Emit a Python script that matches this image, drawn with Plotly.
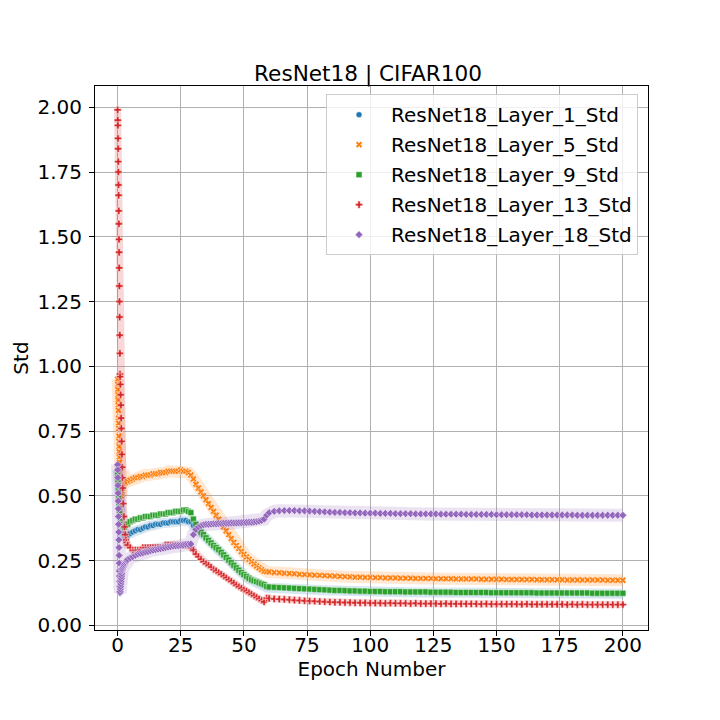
import plotly.graph_objects as go

# epochs: dense sub-epoch samples at the start, then every epoch to 60, then every 2
early_epochs = [0.0, 0.05, 0.1, 0.15, 0.2, 0.25, 0.3, 0.35, 0.4, 0.45,
                0.5, 0.55, 0.6, 0.65, 0.7, 0.75, 0.8, 0.85, 0.9, 0.95,
                1.0, 1.1, 1.2, 1.3, 1.4, 1.5, 1.6, 1.7, 1.8, 1.9, 2.0,
                2.25, 2.5, 2.75, 3.0, 3.25, 3.5, 3.75]
epochs = early_epochs + list(range(4, 61)) + list(range(62, 201, 2))

layer_1_std = [
    0.60, 0.59, 0.58, 0.57, 0.56, 0.55, 0.54, 0.53, 0.52, 0.51, 0.50, 0.50, 0.49, 0.48, 0.47, 0.47, 0.46, 0.45, 0.45, 0.44,
    0.43, 0.42, 0.41, 0.40, 0.40, 0.39, 0.38, 0.38, 0.37, 0.37, 0.36,
    0.35, 0.35, 0.34, 0.34, 0.34, 0.34, 0.35,
    0.35, 0.355, 0.36, 0.365, 0.37, 0.37, 0.375, 0.38, 0.38, 0.385, 0.385, 0.39, 0.39, 0.39, 0.395, 0.395, 0.395,
    0.40, 0.40, 0.40, 0.40, 0.405, 0.405, 0.405, 0.40, 0.40,
    0.385, 0.375, 0.365, 0.355, 0.345, 0.334, 0.324, 0.314, 0.304, 0.296, 0.288, 0.278, 0.268, 0.258, 0.248, 0.238,
    0.228, 0.218, 0.209, 0.200, 0.192, 0.185, 0.178, 0.172, 0.168, 0.165, 0.161, 0.157, 0.153, 0.146, 0.145,
    0.145, 0.144, 0.143, 0.142, 0.141, 0.140, 0.139, 0.138, 0.137, 0.136, 0.135, 0.134, 0.133, 0.133, 0.132, 0.131, 0.131, 0.130, 0.130, 0.129,
    0.129, 0.129, 0.128, 0.128, 0.128, 0.128, 0.127, 0.127, 0.127, 0.127,
    0.127, 0.126, 0.126, 0.126, 0.126, 0.126, 0.125, 0.125, 0.125, 0.125,
    0.125, 0.125, 0.125, 0.124, 0.124, 0.124, 0.124, 0.124, 0.124, 0.124,
    0.124, 0.124, 0.123, 0.123, 0.123, 0.123, 0.123, 0.123, 0.123, 0.123,
    0.123, 0.123, 0.123, 0.122, 0.122, 0.122, 0.122, 0.122, 0.122, 0.122,
]

layer_5_std = [
    0.95, 0.93, 0.91, 0.89, 0.87, 0.85, 0.83, 0.80, 0.78, 0.76, 0.73, 0.71, 0.69, 0.67, 0.65, 0.63, 0.61, 0.59, 0.57, 0.55,
    0.53, 0.52, 0.51, 0.50, 0.50, 0.51, 0.52, 0.53, 0.53, 0.54, 0.54,
    0.54, 0.55, 0.55, 0.55, 0.56, 0.56, 0.56,
    0.555, 0.56, 0.565, 0.57, 0.57, 0.575, 0.575, 0.58, 0.58, 0.58, 0.585, 0.585, 0.585, 0.59, 0.59, 0.59,
    0.595, 0.595, 0.595, 0.595, 0.595, 0.60, 0.595, 0.595, 0.59, 0.58,
    0.565, 0.545, 0.53, 0.515, 0.50, 0.485, 0.47, 0.455, 0.44, 0.425, 0.41, 0.395, 0.38, 0.365, 0.35, 0.335,
    0.32, 0.308, 0.297, 0.285, 0.274, 0.264, 0.255, 0.246, 0.237, 0.229, 0.222, 0.215, 0.209, 0.207, 0.206,
    0.204, 0.203, 0.201, 0.200, 0.199, 0.197, 0.196, 0.195, 0.194, 0.193, 0.192, 0.191, 0.190, 0.189, 0.188, 0.187, 0.186, 0.186, 0.185, 0.185,
    0.184, 0.184, 0.183, 0.183, 0.183, 0.182, 0.182, 0.182, 0.181, 0.181,
    0.181, 0.181, 0.180, 0.180, 0.180, 0.180, 0.179, 0.179, 0.179, 0.179,
    0.179, 0.178, 0.178, 0.178, 0.178, 0.178, 0.177, 0.177, 0.177, 0.177,
    0.177, 0.177, 0.176, 0.176, 0.176, 0.176, 0.176, 0.176, 0.175, 0.175,
    0.175, 0.175, 0.175, 0.175, 0.175, 0.175, 0.174, 0.174, 0.174, 0.174,
]

layer_9_std = [
    0.58, 0.57, 0.56, 0.55, 0.54, 0.53, 0.52, 0.51, 0.50, 0.49, 0.48, 0.47, 0.46, 0.45, 0.45, 0.44, 0.43, 0.43, 0.42, 0.42,
    0.41, 0.41, 0.40, 0.40, 0.39, 0.39, 0.39, 0.38, 0.38, 0.38, 0.38,
    0.38, 0.38, 0.38, 0.39, 0.39, 0.39, 0.39,
    0.39, 0.40, 0.405, 0.41, 0.41, 0.415, 0.415, 0.42, 0.42, 0.42, 0.425, 0.425, 0.425, 0.43, 0.43, 0.43,
    0.435, 0.435, 0.435, 0.44, 0.44, 0.44, 0.445, 0.445, 0.44, 0.435,
    0.41, 0.39, 0.375, 0.36, 0.35, 0.338, 0.328, 0.318, 0.308, 0.30, 0.292, 0.282, 0.272, 0.262, 0.252, 0.242,
    0.232, 0.222, 0.213, 0.204, 0.196, 0.189, 0.182, 0.176, 0.172, 0.169, 0.165, 0.161, 0.157, 0.150, 0.148,
    0.147, 0.146, 0.145, 0.144, 0.143, 0.142, 0.141, 0.140, 0.139, 0.138, 0.137, 0.136, 0.135, 0.135, 0.134, 0.133, 0.133, 0.132, 0.132, 0.131,
    0.131, 0.131, 0.130, 0.130, 0.130, 0.130, 0.129, 0.129, 0.129, 0.129,
    0.129, 0.128, 0.128, 0.128, 0.128, 0.128, 0.127, 0.127, 0.127, 0.127,
    0.127, 0.127, 0.127, 0.126, 0.126, 0.126, 0.126, 0.126, 0.126, 0.126,
    0.126, 0.126, 0.125, 0.125, 0.125, 0.125, 0.125, 0.125, 0.125, 0.125,
    0.125, 0.125, 0.125, 0.124, 0.124, 0.124, 0.124, 0.124, 0.124, 0.124,
]

layer_13_std = [
    1.99, 1.95, 1.93, 1.88, 1.84, 1.79, 1.75, 1.70, 1.66, 1.60, 1.55, 1.49, 1.44, 1.38, 1.31, 1.25, 1.19, 1.12, 1.05, 0.97,
    0.96, 0.93, 0.89, 0.85, 0.80, 0.76, 0.71, 0.66, 0.61, 0.57, 0.53,
    0.47, 0.42, 0.38, 0.35, 0.33, 0.32, 0.31,
    0.31, 0.30, 0.29, 0.29, 0.29, 0.29, 0.30, 0.30, 0.30, 0.30, 0.30, 0.30, 0.30, 0.30,
    0.30, 0.31, 0.31, 0.31, 0.31, 0.31, 0.31, 0.31, 0.31, 0.31, 0.31, 0.30,
    0.29, 0.275, 0.265, 0.255, 0.245, 0.238, 0.232, 0.225, 0.215, 0.21, 0.203, 0.197, 0.19, 0.183, 0.176, 0.17,
    0.163, 0.155, 0.149, 0.143, 0.137, 0.132, 0.126, 0.12, 0.114, 0.108, 0.102, 0.096, 0.091, 0.105, 0.104,
    0.102, 0.101, 0.100, 0.099, 0.097, 0.096, 0.095, 0.094, 0.093, 0.092, 0.091, 0.090, 0.089, 0.089, 0.088, 0.088, 0.087, 0.087, 0.087, 0.086,
    0.086, 0.086, 0.085, 0.086, 0.085, 0.085, 0.085, 0.084, 0.085, 0.084,
    0.084, 0.084, 0.084, 0.083, 0.084, 0.083, 0.083, 0.083, 0.083, 0.083,
    0.083, 0.082, 0.083, 0.082, 0.082, 0.082, 0.082, 0.082, 0.082, 0.081,
    0.082, 0.081, 0.081, 0.081, 0.081, 0.081, 0.081, 0.081, 0.080, 0.081,
    0.080, 0.081, 0.080, 0.080, 0.080, 0.080, 0.080, 0.080, 0.080, 0.080,
]

layer_18_std = [
    0.62, 0.60, 0.57, 0.54, 0.51, 0.48, 0.45, 0.42, 0.39, 0.36, 0.33, 0.30, 0.27, 0.24, 0.21, 0.19, 0.17, 0.15, 0.13, 0.125,
    0.13, 0.14, 0.15, 0.16, 0.17, 0.18, 0.19, 0.20, 0.21, 0.215, 0.22,
    0.225, 0.23, 0.235, 0.24, 0.245, 0.25, 0.25,
    0.255, 0.26, 0.265, 0.27, 0.275, 0.278, 0.28, 0.283, 0.285, 0.288, 0.29, 0.292, 0.294, 0.296,
    0.298, 0.30, 0.302, 0.304, 0.306, 0.307, 0.308, 0.309, 0.31, 0.312, 0.313, 0.314,
    0.35, 0.37, 0.38, 0.385, 0.388, 0.39, 0.39, 0.391, 0.392, 0.392, 0.393, 0.393, 0.394, 0.394, 0.394, 0.395,
    0.395, 0.395, 0.396, 0.396, 0.397, 0.397, 0.398, 0.398, 0.399, 0.40, 0.402, 0.405, 0.41, 0.425, 0.435,
    0.44, 0.442, 0.443, 0.443, 0.443, 0.442, 0.442, 0.441, 0.44, 0.439, 0.438, 0.437, 0.436, 0.436, 0.435, 0.435, 0.434, 0.434, 0.433, 0.433,
    0.433, 0.432, 0.432, 0.432, 0.431, 0.431, 0.431, 0.431, 0.430, 0.430,
    0.430, 0.430, 0.430, 0.429, 0.429, 0.429, 0.429, 0.429, 0.428, 0.428,
    0.428, 0.428, 0.428, 0.428, 0.427, 0.427, 0.427, 0.427, 0.427, 0.427,
    0.427, 0.426, 0.426, 0.426, 0.426, 0.426, 0.426, 0.426, 0.426, 0.426,
    0.425, 0.425, 0.425, 0.425, 0.425, 0.425, 0.425, 0.425, 0.425, 0.425,
]

series_names = ['ResNet18_Layer_1_Std', 'ResNet18_Layer_5_Std', 'ResNet18_Layer_9_Std',
                'ResNet18_Layer_13_Std', 'ResNet18_Layer_18_Std']
series_values = [layer_1_std, layer_5_std, layer_9_std, layer_13_std, layer_18_std]

colors = ['#1f77b4', '#ff7f0e', '#2ca02c', '#d62728', '#9467bd']
symbols = ['circle', 'x', 'square', 'cross', 'diamond']
band_widths = [10, 12, 5, 7, 13]

FONT = 'DejaVu Sans'

fig = go.Figure()

for name, vals, col, sym, bw in zip(series_names, series_values, colors, symbols, band_widths):
    # pale spread band behind the points
    fig.add_trace(go.Scatter(
        x=epochs, y=vals, mode='lines',
        line=dict(color=col, width=bw),
        opacity=0.18, showlegend=False, hoverinfo='skip',
        legendgroup=name
    ))
    fig.add_trace(go.Scatter(
        x=epochs, y=vals, mode='markers', name=name,
        legendgroup=name,
        marker=dict(symbol=sym, size=6, color=col, line=dict(color='white', width=0.5))
    ))

axis_common = dict(
    showline=True, linecolor='black', linewidth=1, mirror=True,
    ticks='outside', ticklen=5, tickcolor='black',
    showgrid=True, gridcolor='#b0b0b0', gridwidth=0.8,
    zeroline=False,
    tickfont=dict(family=FONT, size=20, color='black'),
)

# page body has an 8px margin, so left/top margins are pulled in by 8
fig.update_layout(
    width=720, height=720,
    margin=dict(l=82, r=80, t=78, b=98),
    paper_bgcolor='white', plot_bgcolor='white',
    font=dict(family=FONT, size=20, color='black'),
    title=dict(text='ResNet18 | CIFAR100', x=0.5, xanchor='center', y=0.9097, yanchor='middle',
               font=dict(family=FONT, size=21.6, color='black')),
    xaxis=dict(axis_common, range=[-8.95, 209.95], tickvals=[0, 25, 50, 75, 100, 125, 150, 175, 200],
               ticklabelstandoff=-8,
               title=dict(text='Epoch Number', font=dict(family=FONT, size=20), standoff=4)),
    yaxis=dict(axis_common, range=[-0.018, 2.082], tickvals=[0, 0.25, 0.5, 0.75, 1.0, 1.25, 1.5, 1.75, 2.0],
               tickformat='.2f', ticklabelstandoff=3,
               title=dict(text='Std', font=dict(family=FONT, size=20), standoff=3)),
    legend=dict(
        x=0.982, y=0.985, xanchor='right', yanchor='top',
        bgcolor='rgba(255,255,255,0.8)', bordercolor='#cccccc', borderwidth=1,
        font=dict(family=FONT, size=20, color='black'),
        tracegroupgap=1, itemwidth=54,
    ),
)

fig.write_html("out.html")
